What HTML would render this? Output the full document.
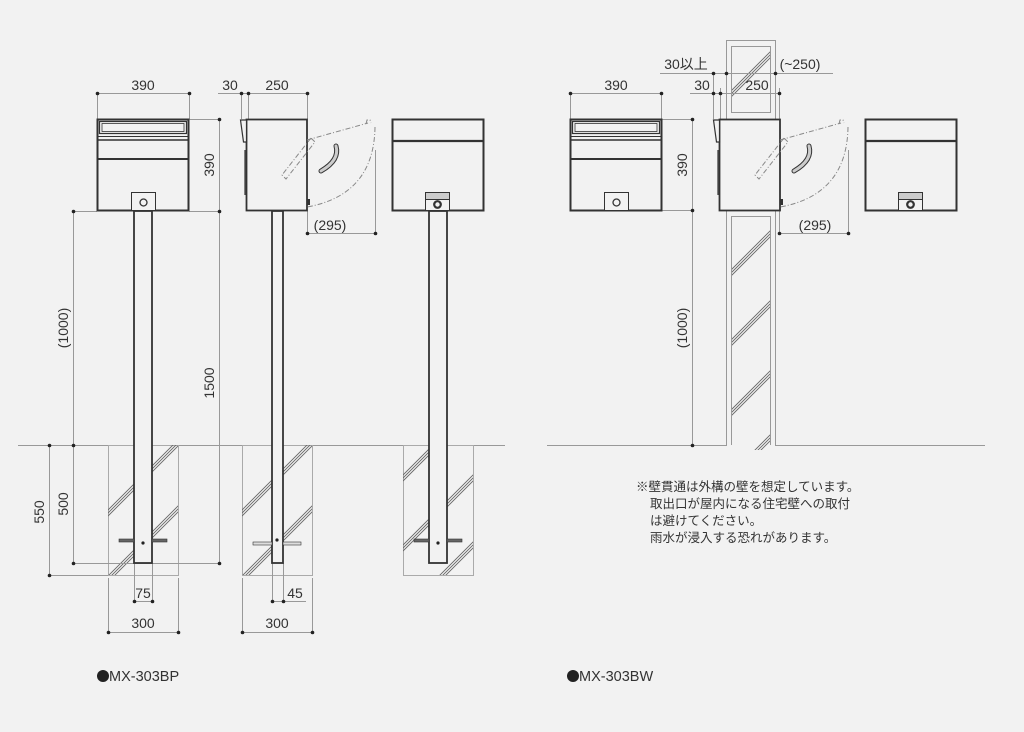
<!DOCTYPE html>
<html><head><meta charset="utf-8">
<style>
html,body{margin:0;padding:0;background:#f2f2f2;}
svg{display:block;}
text{font-family:"Liberation Sans","Noto Sans CJK JP",sans-serif;fill:#333;}
</style></head>
<body>
<svg width="1024" height="732" viewBox="0 0 1024 732" xmlns="http://www.w3.org/2000/svg">
<defs>
  <clipPath id="h1"><rect x="108" y="445" width="70" height="130"/></clipPath>
  <clipPath id="h2"><rect x="242" y="445" width="70" height="130"/></clipPath>
  <clipPath id="h3"><rect x="403" y="445" width="70" height="130"/></clipPath>
  <clipPath id="w1"><rect x="731" y="46" width="39" height="67"/></clipPath>
  <clipPath id="w2"><rect x="731" y="216" width="39" height="234"/></clipPath>
</defs>
<rect width="1024" height="732" fill="#f2f2f2"/>

<g stroke="#999" stroke-width="1" fill="none">
  <line x1="18" y1="445.5" x2="505" y2="445.5"/>
  <line x1="547" y1="445.5" x2="726" y2="445.5"/>
  <line x1="775" y1="445.5" x2="985" y2="445.5"/>
</g>

<g stroke="#aaa" stroke-width="1" fill="none">
  <rect x="108.5" y="445.5" width="70" height="130"/>
  <rect x="242.5" y="445.5" width="70" height="130"/>
  <rect x="403.5" y="445.5" width="70" height="130"/>
</g>
<g stroke="#666" stroke-width="0.9" fill="none">
  <g clip-path="url(#h1)">
    <path d="M108,510 l80,-80 M108,513 l80,-80 M108,516 l80,-80 M108,576 l80,-80 M108,579 l80,-80 M108,582 l80,-80"/>
  </g>
  <g clip-path="url(#h2)">
    <path d="M242,510 l80,-80 M242,513 l80,-80 M242,516 l80,-80 M242,576 l80,-80 M242,579 l80,-80 M242,582 l80,-80"/>
  </g>
  <g clip-path="url(#h3)">
    <path d="M403,475 l80,-80 M403,478 l80,-80 M403,481 l80,-80 M403,545 l80,-80 M403,548 l80,-80 M403,551 l80,-80 M403,612 l80,-80 M403,615 l80,-80 M403,618 l80,-80"/>
  </g>
  <g clip-path="url(#w1)">
    <path d="M731,91 l50,-50 M731,94 l50,-50 M731,97 l50,-50"/>
  </g>
  <g clip-path="url(#w2)">
    <path d="M731,270 l50,-50 M731,273 l50,-50 M731,276 l50,-50 M731,340 l50,-50 M731,343 l50,-50 M731,346 l50,-50 M731,410 l50,-50 M731,413 l50,-50 M731,416 l50,-50 M731,474 l50,-50 M731,477 l50,-50 M731,480 l50,-50"/>
  </g>
</g>

<g stroke="#999" stroke-width="1" fill="none">
  <path d="M726.5,119 V40.5 H775.5 V119"/>
  <rect x="731.5" y="46.5" width="39" height="66"/>
  <path d="M726.5,211 V445.5 H705 M775.5,211 V445.5 H796"/>
  <path d="M731.5,216 V445 M770.5,216 V445 M731.5,216.5 H770.5"/>
</g>

<g stroke="#999" stroke-width="1" fill="none">
  <line x1="97" y1="93.5" x2="189" y2="93.5"/>
  <line x1="97.5" y1="93" x2="97.5" y2="119"/><line x1="189.5" y1="93" x2="189.5" y2="119"/>
  <line x1="189" y1="119.5" x2="219" y2="119.5"/>
  <line x1="219.5" y1="119" x2="219.5" y2="563"/>
  <line x1="189" y1="211.5" x2="219" y2="211.5"/>
  <line x1="73" y1="211.5" x2="97" y2="211.5"/>
  <line x1="73.5" y1="211" x2="73.5" y2="563"/>
  <line x1="73" y1="563.5" x2="219" y2="563.5"/>
  <line x1="49.5" y1="445" x2="49.5" y2="575"/>
  <line x1="49" y1="575.5" x2="108" y2="575.5"/>
  <line x1="134.5" y1="563" x2="134.5" y2="601"/><line x1="152.5" y1="563" x2="152.5" y2="601"/>
  <line x1="134" y1="601.5" x2="152" y2="601.5"/>
  <line x1="108.5" y1="578" x2="108.5" y2="632"/><line x1="178.5" y1="578" x2="178.5" y2="632"/>
  <line x1="108" y1="632.5" x2="178" y2="632.5"/>
  <line x1="218" y1="93.5" x2="307" y2="93.5"/>
  <line x1="241.5" y1="93" x2="241.5" y2="119"/><line x1="248.5" y1="93" x2="248.5" y2="119"/><line x1="307.5" y1="93" x2="307.5" y2="119"/>
  <line x1="307.5" y1="211" x2="307.5" y2="233"/><line x1="375.5" y1="150" x2="375.5" y2="233"/>
  <line x1="307" y1="233.5" x2="375" y2="233.5"/>
  <line x1="272.5" y1="563" x2="272.5" y2="601"/><line x1="283.5" y1="563" x2="283.5" y2="601"/>
  <line x1="272" y1="601.5" x2="306" y2="601.5"/>
  <line x1="242.5" y1="578" x2="242.5" y2="632"/><line x1="312.5" y1="578" x2="312.5" y2="632"/>
  <line x1="242" y1="632.5" x2="312" y2="632.5"/>
  <line x1="570" y1="93.5" x2="661" y2="93.5"/>
  <line x1="570.5" y1="93" x2="570.5" y2="119"/><line x1="661.5" y1="93" x2="661.5" y2="119"/>
  <line x1="661" y1="119.5" x2="692" y2="119.5"/>
  <line x1="692.5" y1="119" x2="692.5" y2="445"/>
  <line x1="661" y1="210.5" x2="692" y2="210.5"/>
  <line x1="660" y1="73.5" x2="833" y2="73.5"/>
  <line x1="713.5" y1="73" x2="713.5" y2="119"/>
  <line x1="690" y1="93.5" x2="780" y2="93.5"/>
  <line x1="720.5" y1="88" x2="720.5" y2="119"/><line x1="779.5" y1="88" x2="779.5" y2="119"/>
  <line x1="779.5" y1="210" x2="779.5" y2="233"/><line x1="848.5" y1="150" x2="848.5" y2="233"/>
  <line x1="779" y1="233.5" x2="848" y2="233.5"/>
</g>
<g fill="#222">
  <circle cx="97.5" cy="93.5" r="1.8"/><circle cx="189.5" cy="93.5" r="1.8"/>
  <circle cx="219.5" cy="119.5" r="1.8"/><circle cx="219.5" cy="211.5" r="1.8"/><circle cx="219.5" cy="563.5" r="1.8"/>
  <circle cx="73.5" cy="211.5" r="1.8"/><circle cx="73.5" cy="445.5" r="1.8"/><circle cx="73.5" cy="563.5" r="1.8"/>
  <circle cx="49.5" cy="445.5" r="1.8"/><circle cx="49.5" cy="575.5" r="1.8"/>
  <circle cx="134.5" cy="601.5" r="1.8"/><circle cx="152.5" cy="601.5" r="1.8"/>
  <circle cx="108.5" cy="632.5" r="1.8"/><circle cx="178.5" cy="632.5" r="1.8"/>
  <circle cx="241.5" cy="93.5" r="1.8"/><circle cx="248.5" cy="93.5" r="1.8"/><circle cx="307.5" cy="93.5" r="1.8"/>
  <circle cx="307.5" cy="233.5" r="1.8"/><circle cx="375.5" cy="233.5" r="1.8"/>
  <circle cx="272.5" cy="601.5" r="1.8"/><circle cx="283.5" cy="601.5" r="1.8"/>
  <circle cx="242.5" cy="632.5" r="1.8"/><circle cx="312.5" cy="632.5" r="1.8"/>
  <circle cx="570.5" cy="93.5" r="1.8"/><circle cx="661.5" cy="93.5" r="1.8"/>
  <circle cx="692.5" cy="119.5" r="1.8"/><circle cx="692.5" cy="210.5" r="1.8"/><circle cx="692.5" cy="445.5" r="1.8"/>
  <circle cx="713.5" cy="73.5" r="1.8"/><circle cx="726.5" cy="73.5" r="1.8"/><circle cx="775.5" cy="73.5" r="1.8"/>
  <circle cx="713.5" cy="93.5" r="1.8"/><circle cx="720.5" cy="93.5" r="1.8"/><circle cx="779.5" cy="93.5" r="1.8"/>
  <circle cx="779.5" cy="233.5" r="1.8"/><circle cx="848.5" cy="233.5" r="1.8"/>
</g>

<g stroke="#333" stroke-width="1.8" fill="#f2f2f2">
  <rect x="134" y="211" width="18" height="352"/>
  <rect x="272" y="211" width="11" height="352"/>
  <rect x="429" y="211" width="18" height="352"/>
</g>
<g fill="#666" stroke="#333" stroke-width="0.6">
  <rect x="119" y="539" width="15" height="3"/><rect x="152" y="539" width="15" height="3"/>
  <rect x="253" y="542" width="19" height="3" fill="#ddd"/><rect x="283" y="542" width="18" height="3" fill="#ddd"/>
  <rect x="414" y="539" width="15" height="3"/><rect x="447" y="539" width="15" height="3"/>
</g>
<g fill="#222"><circle cx="143" cy="543" r="1.6"/><circle cx="277" cy="540" r="1.6"/><circle cx="438" cy="543" r="1.6"/></g>

<g id="front" stroke="#333" fill="#f2f2f2">
  <rect x="97.5" y="119.5" width="91" height="91" stroke-width="2"/>
  <rect x="99.5" y="121.5" width="87" height="12" stroke-width="1.2"/>
  <rect x="102" y="123.5" width="82" height="8" stroke-width="0.8"/>
  <line x1="98" y1="136.5" x2="188" y2="136.5" stroke-width="1"/>
  <line x1="98" y1="140" x2="188" y2="140" stroke-width="1.6"/>
  <line x1="98" y1="159" x2="188" y2="159" stroke-width="2"/>
  <rect x="131.5" y="192.5" width="24" height="18" stroke-width="1"/>
  <circle cx="143.5" cy="202.5" r="3.5" stroke-width="1.3"/>
</g>
<use href="#front" transform="translate(473,0)"/>

<g id="back" stroke="#333" fill="#f2f2f2">
  <rect x="392.5" y="119.5" width="91" height="91" stroke-width="2"/>
  <line x1="393" y1="141" x2="483" y2="141" stroke-width="2.2"/>
  <rect x="425.5" y="192.5" width="24" height="18" stroke-width="1"/>
  <rect x="426" y="193" width="23" height="6" fill="#ccc" stroke="none"/>
  <line x1="426" y1="199.5" x2="449" y2="199.5" stroke-width="1"/>
  <circle cx="437.5" cy="204.5" r="3.3" stroke-width="2.2"/>
</g>
<use href="#back" transform="translate(473,0)"/>

<g id="side">
  <rect x="246.5" y="119.5" width="60.5" height="91" fill="#f2f2f2" stroke="#333" stroke-width="1.8"/>
  <path d="M240.5,120 H246.5 V142 H243.5 Z" fill="#f2f2f2" stroke="#333" stroke-width="1.2"/>
  <line x1="245" y1="150" x2="245" y2="195" stroke="#333" stroke-width="1.2"/>
  <rect x="307" y="199" width="3" height="6" fill="#333"/>
  <g stroke="#888" stroke-width="1" fill="none" stroke-dasharray="5,2,1,2">
    <path d="M307,140 L368,123"/>
    <path d="M375,127 Q374,195 307,207"/>
    <path d="M311,138 L282,175 L286,179 L315,142 Z"/>
    <path d="M366,124 l1,-4 3,0 1,3"/>
  </g>
  <path d="M336,146 Q340,160 321,171" stroke="#333" stroke-width="5" fill="none" stroke-linecap="round"/>
  <path d="M336,146 Q340,160 321,171" stroke="#ccc" stroke-width="3" fill="none" stroke-linecap="round"/>
</g>
<use href="#side" transform="translate(473,0)"/>

<g font-size="14" text-anchor="middle">
  <text x="143" y="90">390</text>
  <text x="230" y="90">30</text>
  <text x="277" y="90">250</text>
  <text x="330" y="230">(295)</text>
  <text transform="translate(214,165) rotate(-90)">390</text>
  <text transform="translate(68,328) rotate(-90)">(1000)</text>
  <text transform="translate(214,383) rotate(-90)">1500</text>
  <text transform="translate(68,504) rotate(-90)">500</text>
  <text transform="translate(44,512) rotate(-90)">550</text>
  <text x="143" y="598">75</text>
  <text x="295" y="598">45</text>
  <text x="143" y="628">300</text>
  <text x="277" y="628">300</text>

  <text x="616" y="90">390</text>
  <text x="702" y="90">30</text>
  <text x="757" y="90">250</text>
  <text x="686" y="69">30以上</text>
  <text x="800" y="69">(~250)</text>
  <text x="815" y="230">(295)</text>
  <text transform="translate(687,165) rotate(-90)">390</text>
  <text transform="translate(687,328) rotate(-90)">(1000)</text>
</g>

<g font-size="12.5">
  <text x="636" y="491">※壁貫通は外構の壁を想定しています。</text>
  <text x="650" y="508">取出口が屋内になる住宅壁への取付</text>
  <text x="650" y="525">は避けてください。</text>
  <text x="650" y="542">雨水が浸入する恐れがあります。</text>
</g>

<g font-size="14.5">
  <circle cx="103" cy="676" r="6" fill="#222"/>
  <text x="109" y="681">MX-303BP</text>
  <circle cx="573" cy="676" r="6" fill="#222"/>
  <text x="579" y="681">MX-303BW</text>
</g>
</svg>
</body></html>
